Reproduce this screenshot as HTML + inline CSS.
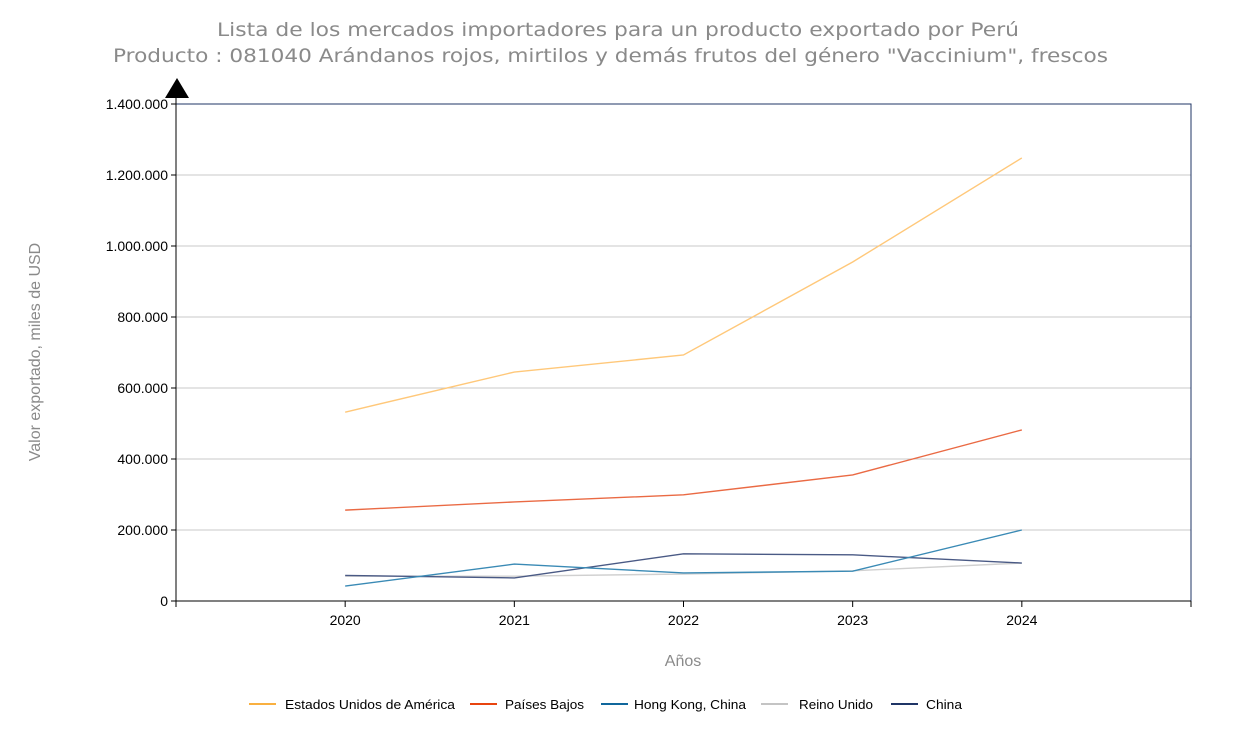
<!DOCTYPE html>
<html><head><meta charset="utf-8"><style>
body{margin:0;background:#fff;width:1236px;height:735px;overflow:hidden;font-family:"Liberation Sans",sans-serif}
</style></head><body>
<svg id="chart" width="1236" height="735" xmlns="http://www.w3.org/2000/svg">
<text x="217" y="36" textLength="802" lengthAdjust="spacingAndGlyphs" font-family="DejaVu Sans, sans-serif" font-size="19" fill="#8a8a8a">Lista de los mercados importadores para un producto exportado por Perú</text>
<text x="113" y="62" textLength="995" lengthAdjust="spacingAndGlyphs" font-family="DejaVu Sans, sans-serif" font-size="19" fill="#8a8a8a">Producto : 081040 Arándanos rojos, mirtilos y demás frutos del género "Vaccinium", frescos</text>
<g id="grid"></g>
<rect x="176" y="104" width="1015" height="497" fill="none" stroke="#1f3566" stroke-width="1"/>
<g id="series"></g>
<g id="axes"></g>
<polygon points="165,98 177,78 189,98" fill="#000"/>
<text transform="translate(40,352) rotate(-90)" text-anchor="middle" font-size="16" fill="#8a8a8a">Valor exportado, miles de USD</text>
<text x="683" y="666" text-anchor="middle" font-size="16" fill="#8a8a8a">Años</text>
<g id="legend"></g>
</svg>
<script>
const years = [2020, 2021, 2022, 2023, 2024];
const usa = [532000, 645000, 693000, 955000, 1248000];
const paisesBajos = [256000, 279000, 299000, 355000, 482000];
const hongKong = [42000, 104000, 79000, 84000, 200000];
const reinoUnido = [70000, 70000, 76000, 85000, 107000];
const china = [72000, 65000, 133000, 130000, 107000];
const yTicks = [0, 200000, 400000, 600000, 800000, 1000000, 1200000, 1400000];
const yTickLabels = ["0", "200.000", "400.000", "600.000", "800.000", "1.000.000", "1.200.000", "1.400.000"];
const seriesNames = ["Estados Unidos de América", "Países Bajos", "Hong Kong, China", "Reino Unido", "China"];

const NS = "http://www.w3.org/2000/svg";
const x0 = 176, x1 = 1191, y0 = 601, y1 = 104;
const xMin = 2019, xMax = 2025, yMax = 1400000;
function xs(v){ return x0 + (v - xMin) / (xMax - xMin) * (x1 - x0); }
function ys(v){ return y0 - v / yMax * (y0 - y1); }
function mk(tag, attrs, parent){ const e = document.createElementNS(NS, tag); for (const k in attrs) e.setAttribute(k, attrs[k]); parent.appendChild(e); return e; }

const grid = document.getElementById('grid');
const axes = document.getElementById('axes');
yTicks.forEach((t, i) => {
  const y = ys(t);
  if (t > 0) {
    const g = mk('line', {x1: x0, x2: x1, y1: y, y2: y, stroke: '#c8c8c8', 'stroke-width': 1}, grid);
    
    
  }
  const tk = mk('line', {x1: x0 - 5, x2: x0, y1: y, y2: y, stroke: '#000'}, axes);
  
  
  const lb = mk('text', {x: x0 - 8, y: y + 5, 'text-anchor': 'end', 'font-size': 14, fill: '#000'}, axes);
  lb.textContent = yTickLabels[i];
  
  
});
const ya = mk('line', {x1: x0, x2: x0, y1: 90, y2: y0, stroke: '#000'}, axes);


const xa = mk('line', {x1: x0, x2: x1, y1: y0, y2: y0, stroke: '#000'}, axes);


[xMin, ...years, xMax].forEach(v => {
  const x = xs(v);
  const tk = mk('line', {x1: x, x2: x, y1: y0, y2: y0 + 6, stroke: '#000'}, axes);
  
  
});
years.forEach(v => {
  const lb = mk('text', {x: xs(v), y: y0 + 24, 'text-anchor': 'middle', 'font-size': 14, fill: '#000'}, axes);
  lb.textContent = v;
  
  
});

const seriesData = [usa, paisesBajos, hongKong, reinoUnido, china];
const lineColors = ['#ffc87a', '#ea6a44', '#3a8ab5', '#d0d0d0', '#4a5a85'];
const legendColors = ['#f9b040', '#e8440f', '#10679c', '#c4c4c4', '#1f3566'];
const seriesG = document.getElementById('series');
[3, 4, 2, 1, 0].forEach(si => {
  const d = seriesData[si].map((v, i) => (i ? 'L' : 'M') + xs(years[i]) + ',' + ys(v)).join(' ');
  const p = mk('path', {d: d, fill: 'none', stroke: lineColors[si], 'stroke-width': 1.4}, seriesG);
  
  
});

const legend = document.getElementById('legend');
const legendX = [249, 470, 601, 761, 891];
const legendTextX = [285, 505, 634, 799, 926];
const legendTextW = [170, 79, 112, 74, 36];
seriesNames.forEach((n, i) => {
  const g = mk('g', {}, legend);
  
  
  mk('line', {x1: legendX[i], x2: legendX[i] + 27, y1: 704, y2: 704, stroke: legendColors[i], 'stroke-width': 2}, g);
  const t = mk('text', {x: legendTextX[i], y: 709, 'font-size': 13, fill: '#000', textLength: legendTextW[i], lengthAdjust: 'spacingAndGlyphs'}, g);
  t.textContent = n;
});
</script>
</body></html>
